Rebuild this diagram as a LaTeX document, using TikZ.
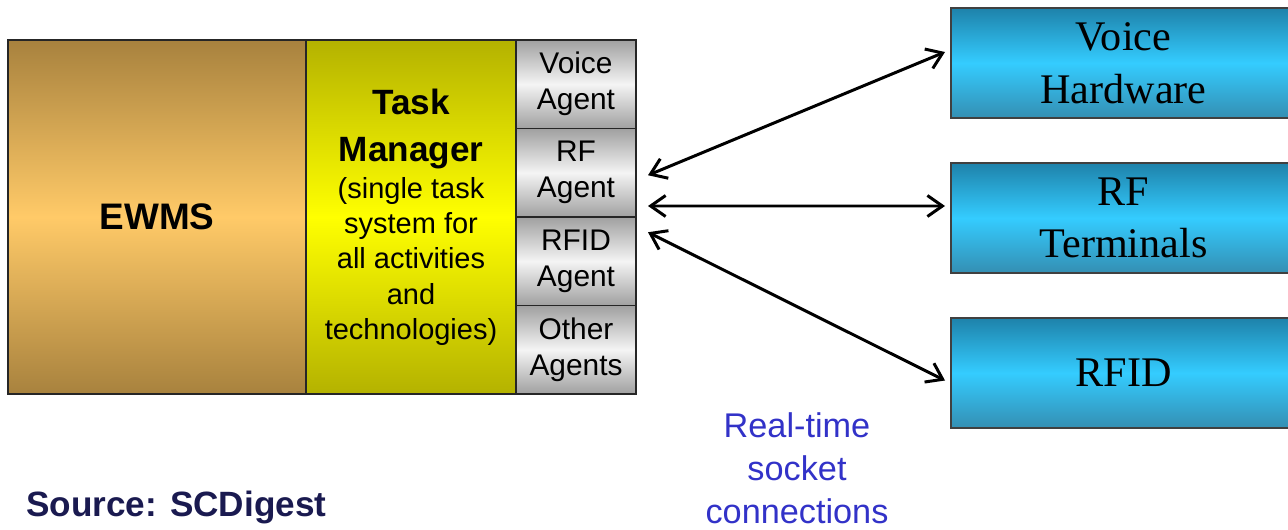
\documentclass[tikz,border=0pt]{standalone}
\usepackage{fontspec}
\setmainfont{Liberation Sans}
\newfontfamily\serifbox{Liberation Serif}
\usetikzlibrary{positioning,arrows.meta}

\definecolor{ewmsdark}{RGB}{168,130,62}
\definecolor{ewmslight}{RGB}{255,202,104}
\definecolor{tmdark}{RGB}{180,178,0}
\definecolor{tmlight}{RGB}{255,255,0}
\definecolor{agdark}{RGB}{160,160,160}
\definecolor{aglight}{RGB}{244,244,244}
\definecolor{hwdark}{RGB}{30,130,170}
\definecolor{hwlight}{RGB}{52,204,255}
\definecolor{notecol}{RGB}{50,50,200}
\definecolor{srccol}{RGB}{26,26,80}

\tikzset{
    block/.style={draw=black!85, line width=0.9pt, inner sep=0pt, outer sep=0pt, align=center},
    ewmsbox/.style={block, top color=ewmsdark, bottom color=ewmsdark, middle color=ewmslight,
        minimum width=5.96cm, minimum height=7.08cm},
    tmbox/.style={block, top color=tmdark, bottom color=tmdark, middle color=tmlight,
        minimum width=4.2cm, minimum height=7.08cm, font=\fontsize{16.5}{20}\selectfont},
    agentbox/.style={block, top color=agdark, bottom color=agdark, middle color=aglight,
        minimum width=2.4cm, minimum height=1.77cm, font=\fontsize{17}{20.5}\selectfont},
    hwbox/.style={block, draw=black!75, top color=hwdark, bottom color=hwdark!90, middle color=hwlight,
        minimum width=6.9cm, minimum height=2.2cm, font=\serifbox\fontsize{24}{30}\selectfont},
    link/.style={{Straight Barb[length=3mm,width=4.2mm]}-{Straight Barb[length=3mm,width=4.2mm]}, line width=1.7pt}
}
\newcommand{\tmhead}{\fontsize{20}{27}\selectfont\bfseries}

\begin{document}
\begin{tikzpicture}
    \useasboundingbox (0, 0) rectangle (25.76, 10.58);

    % left stack
    \node[ewmsbox, anchor=south west] (ewms) at (0.16, 2.70) {\fontsize{21}{25}\selectfont\bfseries EWMS};
    \node[tmbox, right=0pt of ewms] (tm) {\tmhead Task\\[7pt] \tmhead Manager\\[1pt]
        (single task\\ system for\\ all activities\\ and\\ technologies)};
    \node[agentbox, anchor=north west] (va) at (tm.north east) {Voice\\ Agent};
    \node[agentbox, below=0pt of va] (rfa) {RF\\ Agent};
    \node[agentbox, below=0pt of rfa] (rfida) {RFID\\ Agent};
    \node[agentbox, below=0pt of rfida] (oa) {Other\\ Agents};

    % hardware on the right
    \node[hwbox, anchor=north west] (vhw) at (19.02, 10.42) {Voice\\ Hardware};
    \node[hwbox, anchor=north west] (rft) at (19.02, 7.32) {RF\\ Terminals};
    \node[hwbox, anchor=north west] (rfid) at (19.02, 4.22) {RFID};

    \draw[link] ([shift={(0.24,-0.05)}]rfa.east) -- ([shift={(-0.12,0.22)}]vhw.west);
    \draw[link] ([shift={(0.24,-0.665)}]rfa.east) -- ([shift={(-0.12,0.24)}]rft.west);
    \draw[link] ([shift={(0.24,0.58)}]rfida.east) -- ([shift={(-0.12,-0.15)}]rfid.west);

    \node[align=center, text=notecol, font=\fontsize{19.5}{24.5}\selectfont] (note) at (15.94, 1.22)
        {Real-time\\ socket\\ connections};
    \node[anchor=west, text=srccol, font=\fontsize{20}{23}\selectfont\bfseries] (src) at (0.40, 0.44)
        {Source: SCDigest};
\end{tikzpicture}
\end{document}
